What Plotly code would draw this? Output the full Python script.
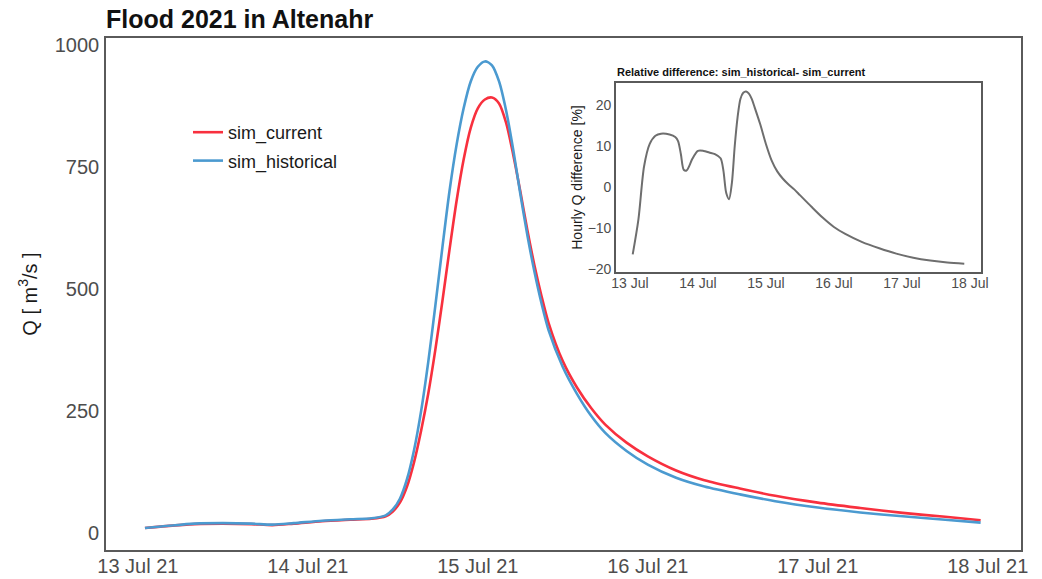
import datetime as dt
import plotly.graph_objects as go

# ---------------- data ----------------
base = dt.datetime(2021, 7, 13)

# hours after 13 Jul 2021 00:00
hours = [1, 4, 8, 12, 16, 19, 22, 26, 30, 33, 35, 36, 37, 38, 39, 40, 41, 42, 43, 44,
         45, 46, 47, 48, 49, 50, 51, 52, 53, 54, 55, 56, 57, 58, 60, 62, 64, 66, 69, 72,
         76, 80, 85, 90, 96, 102, 108, 114, 119]

sim_current = [10, 14, 18, 19, 18, 16, 19, 24, 27, 29, 34, 44, 62, 95, 145, 210, 285, 375, 475, 580,
               680, 765, 830, 870, 888, 892, 880, 840, 775, 700, 620, 548, 485, 430, 352, 298, 256, 222, 185, 157,
               128, 108, 91, 76, 62, 51, 41, 33, 26]

sim_historical = [10, 14, 19, 20, 19, 17, 20, 25, 28, 30, 36, 48, 70, 110, 170, 250, 350, 465, 585, 700,
                  795, 870, 925, 955, 966, 958, 925, 865, 785, 695, 610, 535, 470, 415, 340, 285, 240, 205, 168, 140,
                  113, 95, 79, 65, 52, 42, 34, 27, 21]

diff_hours = [1, 3, 5, 7, 9, 11, 14, 16, 17, 18, 19, 20, 21, 22, 24, 26, 28, 30, 32, 33,
              34, 35, 36, 37, 38, 39, 40, 41, 42, 43, 44, 46, 48, 50, 52, 54, 56, 58, 60, 64,
              68, 72, 76, 82, 88, 94, 100, 106, 112, 118]
rel_diff = [-16.5, -8, 5, 10.5, 12.5, 13, 12.8, 12.2, 11.2, 8, 4.2, 4, 5.2, 6.8, 8.8, 8.8, 8.4, 8, 7, 4,
            -1.5, -3, 1, 10, 17, 21.5, 23, 23.3, 22.8, 21.5, 19.5, 15.3, 10.5, 6.5, 3.8, 2, 0.6, -0.6, -2, -4.8,
            -7.5, -9.8, -11.5, -13.5, -15, -16.3, -17.3, -18, -18.5, -18.8]

tick_days = [0, 1, 2, 3, 4, 5]
main_yticks = [0, 250, 500, 750, 1000]
inset_yticks = [-20, -10, 0, 10, 20]

# ---------------- helpers ----------------
t_main = [base + dt.timedelta(hours=h) for h in hours]
t_diff = [base + dt.timedelta(hours=h) for h in diff_hours]
t_ticks = [base + dt.timedelta(days=d) for d in tick_days]

FONT = "Liberation Sans, Arial, sans-serif"
FRAME = "#5a5a5a"
TICKC = "#4d4d4d"

fig = go.Figure()
fig.add_trace(go.Scatter(x=t_main, y=sim_current, name="sim_current", mode="lines",
                         line=dict(color="#f8303e", width=2.6, shape="spline", smoothing=0.8),
                         legendgroup="a"))
fig.add_trace(go.Scatter(x=t_main, y=sim_historical, name="sim_historical", mode="lines",
                         line=dict(color="#4b9ad0", width=2.6, shape="spline", smoothing=0.8),
                         legendgroup="b"))
fig.add_trace(go.Scatter(x=t_diff, y=rel_diff, name="rel_diff", mode="lines",
                         line=dict(color="#6e6e6e", width=2, shape="spline", smoothing=0.8),
                         xaxis="x2", yaxis="y2", showlegend=False))

# the page body has an 8px margin: the figure starts at (8, 8) on screen
OFF = 8
W, H = 1042 - OFF, 579 - OFF
PL, PR, PT, PB = 106, 1021, 38, 550          # plot frame in screen pixels
L, T = PL - OFF, PT - OFF
R = W - L - (PR - PL)
B = H - T - (PB - PT)


def px_x(x):
    return (x - PL) / (PR - PL)


def px_y(y):
    return (PB - y) / (PB - PT)


fig.update_layout(
    width=W, height=H,
    margin=dict(l=L, r=R, t=T, b=B, autoexpand=False),
    paper_bgcolor="white", plot_bgcolor="white",
    font=dict(family=FONT, color="#1a1a1a"),
    title=dict(text="<b>Flood 2021 in Altenahr</b>", x=0, xref="paper", xanchor="left",
               y=1 - (19 - OFF) / H, yref="container", yanchor="middle",
               font=dict(size=25, color="#111111", family=FONT)),
    legend=dict(x=px_x(188), y=px_y(114), xanchor="left", yanchor="top",
                bgcolor="rgba(0,0,0,0)", font=dict(size=18, color="#1a1a1a"),
                traceorder="grouped", tracegroupgap=2),
    xaxis=dict(type="date", automargin=False,
               range=[base - dt.timedelta(hours=4.5), base + dt.timedelta(hours=124.7)],
               tickvals=t_ticks, tickformat="%d %b %y",
               showline=True, mirror=True, linecolor=FRAME, linewidth=1.6,
               showgrid=False, zeroline=False, ticks="",
               tickfont=dict(size=20, color=TICKC), ticklabelstandoff=-3),
    yaxis=dict(range=[-35, 1014], tickvals=main_yticks, automargin=False,
               showline=True, mirror=True, linecolor=FRAME, linewidth=1.6,
               showgrid=False, zeroline=False, ticks="",
               tickfont=dict(size=20, color=TICKC), ticklabelstandoff=1,
               title=dict(text="Q [ m<sup>3</sup>/s ]", font=dict(size=20, color="#1a1a1a"),
                          standoff=12)),
    xaxis2=dict(type="date", anchor="y2", automargin=False,
                domain=[px_x(616), px_x(981)],
                range=[base - dt.timedelta(hours=4.9), base + dt.timedelta(hours=123.9)],
                tickvals=t_ticks, tickformat="%d %b",
                showline=True, mirror=True, linecolor=FRAME, linewidth=1.6,
                showgrid=False, zeroline=False, ticks="",
                tickfont=dict(size=14, color=TICKC), ticklabelstandoff=-3),
    yaxis2=dict(anchor="x2", domain=[px_y(272), px_y(83)], automargin=False,
                range=[-20.8, 25.4], tickvals=inset_yticks,
                showline=True, mirror=True, linecolor=FRAME, linewidth=1.6,
                showgrid=False, zeroline=False, ticks="",
                tickfont=dict(size=14, color=TICKC), ticklabelstandoff=0,
                title=dict(text="Hourly Q difference [%]", font=dict(size=14, color="#1a1a1a"),
                           standoff=2)),
    annotations=[dict(text="<b>Relative difference: sim_historical- sim_current</b>",
                      xref="paper", yref="paper", x=px_x(615), y=px_y(72),
                      xanchor="left", yanchor="middle", showarrow=False,
                      font=dict(size=11, color="#111111", family=FONT))],
)

fig.write_html("out.html")
